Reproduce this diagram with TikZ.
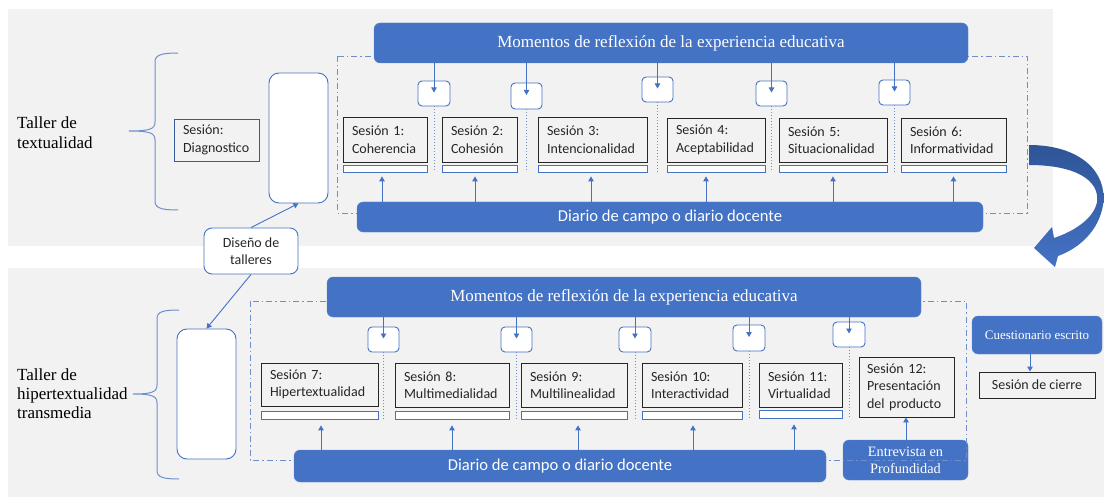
\documentclass[tikz,border=0pt]{standalone}
\usepackage{fontspec}
\setmainfont{Liberation Serif}
\newfontfamily\calibri{Carlito}
\usetikzlibrary{arrows.meta,calc}
\definecolor{obl}{HTML}{4472C4}
\definecolor{bgg}{HTML}{F2F2F2}
\definecolor{dkb}{HTML}{2F5597}
\definecolor{txt}{HTML}{262626}
\definecolor{lnb}{HTML}{6F8FCB}
\newcommand\bx[7]{\node[#1, minimum width={(#5-#3)*1pt}, minimum height={(#6-#4)*1pt}] (#2) at ({(#3+#5)/2},{(#4+#6)/2}) {#7};}
\newcommand\sx[7]{\node[#1, text width={(#5-#3-18)*1pt}, minimum height={(#6-#4)*1pt}] (#2) at ({(#3+#5)/2},{(#4+#6)/2}) {#7};}
\tikzset{
  bluebar/.style={fill=obl, draw=obl!85!white, rounded corners=6pt, text=white, inner sep=0pt},
  sess/.style={draw=txt, line width=0.9pt, fill=bgg, inner xsep=9pt, inner ysep=0pt, font=\calibri\fontsize{14}{17.5}\selectfont, align=left, text=txt},
  thinbar/.style={draw=obl, fill=white, line width=0.8pt, inner sep=0pt},
  mini/.style={draw=obl, fill=white, rounded corners=4pt, line width=0.9pt, inner sep=0pt},
  tall/.style={draw=obl, fill=white, rounded corners=10pt, line width=0.9pt, inner sep=0pt},
  arr/.style={draw=obl, line width=0.9pt, -{Triangle[length=5pt,width=5.5pt]}},
  dotl/.style={draw=lnb, line width=1pt, dash pattern=on 1pt off 2pt},
  dashd/.style={draw=lnb, line width=0.8pt, dash pattern=on 6pt off 3pt on 1.5pt off 3pt},
  brc/.style={draw=lnb, line width=1pt},
  lbl/.style={font=\fontsize{17}{20}\selectfont, align=left, text=black, inner sep=0pt, anchor=west},
}
\begin{document}
\begin{tikzpicture}[x=1pt,y=-1pt]
\useasboundingbox (0,0) rectangle (1104,500);
% backgrounds
\fill[bgg] (8,9) rectangle (1053,246);
\fill[bgg] (8,268) rectangle (1104,497);

% ================= TOP =================
\draw[dashd] (337,56) rectangle (1027,213);
\bx{bluebar, font=\fontsize{17}{20}\selectfont}{momT}{374}{23}{968}{63}{Momentos de reflexión de la experiencia educativa}
\bx{bluebar, font=\calibri\fontsize{16.6}{20}\selectfont}{diaT}{357}{202}{983}{232}{Diario de campo o diario docente}

\sx{sess}{s1}{343}{117}{427}{162}{Sesión 1:\\Coherencia}
\sx{sess}{s2}{442}{117}{517}{162}{Sesión 2:\\Cohesión}
\sx{sess}{s3}{538}{117}{647}{162}{Sesión 3:\\Intencionalidad}
\sx{sess}{s4}{667}{118}{765}{162}{Sesión 4:\\Aceptabilidad}
\sx{sess}{s5}{779}{118}{887}{162}{Sesión 5:\\Situacionalidad}
\sx{sess}{s6}{901}{118}{1006}{162}{Sesión 6:\\Informatividad}

\bx{thinbar}{b1}{343}{165}{427}{172}{}
\bx{thinbar}{b2}{442}{165}{517}{172}{}
\bx{thinbar}{b3}{538}{165}{647}{172}{}
\bx{thinbar}{b4}{667}{165}{765}{172}{}
\bx{thinbar}{b5}{779}{165}{887}{172}{}
\bx{thinbar}{b6}{901}{165}{1006}{172}{}

\bx{mini}{m1}{418}{81}{450}{106}{}
\bx{mini}{m2}{511}{83}{542}{109}{}
\bx{mini}{m3}{642}{77}{673}{102}{}
\bx{mini}{m4}{756}{81}{787}{106}{}
\bx{mini}{m5}{879}{80}{910}{105}{}

\foreach \m in {m1,m2,m3,m4,m5}{
  \draw[arr] (\m.center |- momT.south) -- ([yshift=1pt]\m.center);
  \draw[dotl] (\m.south) -- (\m.south |- b1.south);
}
\draw[arr] ([xshift=-3pt]b1.south |- diaT.north) -- ([xshift=-3pt,yshift=-4pt]b1.south);
\draw[arr] ([xshift=-4.5pt]b2.south |- diaT.north) -- ([xshift=-4.5pt,yshift=-4pt]b2.south);
\draw[arr] ([xshift=-1.5pt]b3.south |- diaT.north) -- ([xshift=-1.5pt,yshift=-4pt]b3.south);
\draw[arr] ([xshift=-10pt]b4.south |- diaT.north) -- ([xshift=-10pt,yshift=-4pt]b4.south);
\draw[arr] (b5.south |- diaT.north) -- ([yshift=-4pt]b5.south);
\draw[arr] (b6.south |- diaT.north) -- ([yshift=-4pt]b6.south);

% left part top
\node[lbl] (tt) at (17,133) {Taller de\\textualidad};
\draw[brc] (178,53) .. controls (161,53) and (155,55) .. (155,62) -- (155,122)
  .. controls (155,129) and (150,131) .. (129,131)
  .. controls (150,131) and (155,133) .. (155,140) -- (155,201)
  .. controls (155,208) and (161,210) .. (178,210);
\sx{sess, draw=obl!80!black, line width=0.8pt}{diag}{174}{119}{259}{161}{Sesión:\\Diagnostico}
\bx{tall}{T1}{269}{73}{328}{203}{}

% ================= BOTTOM =================
\bx{bluebar, font=\fontsize{14.3}{17}\selectfont, align=center}{ent}{843}{440}{968}{480}{Entrevista en\\Profundidad}
\draw[dashd] (250,301) rectangle (966,460);
\bx{bluebar, font=\fontsize{17}{20}\selectfont}{momB}{327}{277}{921}{317}{Momentos de reflexión de la experiencia educativa}
\bx{bluebar, font=\calibri\fontsize{16.6}{20}\selectfont}{diaB}{294}{450}{826}{482}{Diario de campo o diario docente}

\sx{sess}{s7}{261}{363}{378}{406}{Sesión 7:\\Hipertextualidad}
\sx{sess}{s8}{395}{363}{509}{407}{Sesión 8:\\Multimedialidad}
\sx{sess}{s9}{521}{363}{627}{407}{Sesión 9:\\Multilinealidad}
\sx{sess}{s10}{642}{363}{742}{407}{Sesión 10:\\Interactividad}
\sx{sess}{s11}{759}{363}{842}{407}{Sesión 11:\\Virtualidad}
\sx{sess, inner xsep=8pt}{s12}{858}{357}{955}{417}{Sesión 12:\\Presentación\\del producto}

\bx{thinbar}{c7}{261}{411}{378}{419}{}
\bx{thinbar}{c8}{395}{411}{509}{419}{}
\bx{thinbar}{c9}{521}{411}{627}{419}{}
\bx{thinbar}{c10}{642}{411}{742}{419}{}
\bx{thinbar}{c11}{759}{410}{842}{418}{}

\bx{mini}{n1}{368}{327}{399}{352}{}
\bx{mini}{n2}{501}{327}{532}{352}{}
\bx{mini}{n3}{619}{327}{651}{352}{}
\bx{mini}{n4}{733}{325}{765}{351}{}
\bx{mini}{n5}{833}{322}{865}{347}{}

\foreach \m in {n1,n2,n3,n4,n5}{
  \draw[arr] (\m.center |- momB.south) -- ([yshift=1pt]\m.center);
  \draw[dotl] (\m.south) -- (\m.south |- c8.south);
}
\draw[arr] ([xshift=1.5pt]c7.south |- diaB.north) -- ([xshift=1.5pt,yshift=-6pt]c7.south);
\draw[arr] (c8.south |- diaB.north) -- ([yshift=-6pt]c8.south);
\draw[arr] ([xshift=4pt]c9.south |- diaB.north) -- ([xshift=4pt,yshift=-6pt]c9.south);
\draw[arr] ([xshift=1pt]c10.south |- diaB.north) -- ([xshift=1pt,yshift=-6pt]c10.south);
\draw[arr] ([xshift=-6.5pt]c11.south |- diaB.north) -- ([xshift=-6.5pt,yshift=-6pt]c11.south);
\draw[arr] (ent.north -| 906,0) -- (s12.south -| 906,0);

\bx{bluebar, font=\fontsize{13}{16}\selectfont}{cue}{972}{316}{1102}{354}{Cuestionario escrito}
\bx{sess, inner sep=0pt}{cie}{979}{372}{1095}{398}{Sesión de cierre}
\draw[arr] (cue.south -| 1030,0) -- (cie.north -| 1030,0);

% left part bottom
\node[lbl, font=\fontsize{17}{19}\selectfont] (tb) at (17,394) {Taller de\\hipertextualidad\\transmedia};
\draw[brc] (179,310) .. controls (162,310) and (157,312) .. (157,319) -- (157,385)
  .. controls (157,392) and (152,394) .. (133,394)
  .. controls (152,394) and (157,396) .. (157,403) -- (157,470)
  .. controls (157,477) and (162,479) .. (179,479);
\bx{tall}{T2}{177}{329}{236}{459}{}

% design node
\bx{tall, rounded corners=8pt, font=\calibri\fontsize{14}{17.5}\selectfont, align=center, text=txt}{dis}{204}{228}{298}{274}{Diseño de\\talleres}
\draw[arr] (dis.north) -- (T1.south);
\draw[arr] (dis.south) -- (T2.north);

% big curved arrow
\shade[top color=dkb, bottom color=obl]
  (1029,145) .. controls (1080,145) and (1108,172) .. (1103,205)
  .. controls (1099,230) and (1080,248) .. (1058,256)
  -- (1055,267) -- (1034,248) -- (1052,227) -- (1054,238)
  .. controls (1075,231) and (1094,218) .. (1097,202)
  .. controls (1100,180) and (1075,165) .. (1029,165) -- cycle;
\end{tikzpicture}
\end{document}
